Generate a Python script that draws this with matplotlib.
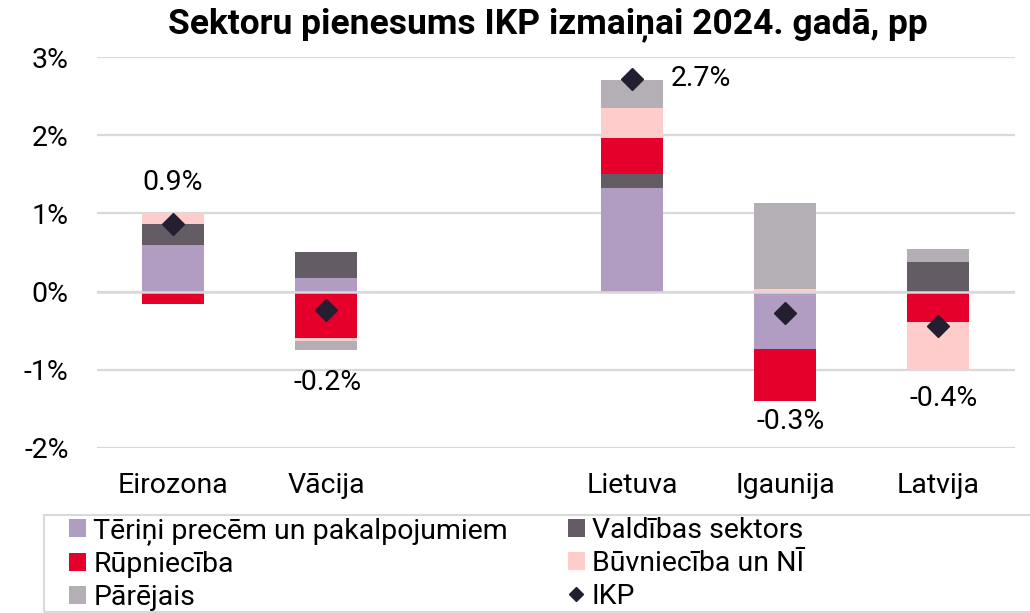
import matplotlib
matplotlib.use('Agg')
import matplotlib.pyplot as plt
import numpy as np
from matplotlib.patches import Rectangle, Patch
from matplotlib.lines import Line2D
from matplotlib.ticker import FuncFormatter

plt.rcParams['font.family'] = ['Roboto', 'DejaVu Sans']

# ---- data ----
categories = ["Eirozona", "Vācija", "", "Lietuva", "Igaunija", "Latvija"]
terini = [0.60, 0.17, 0.0, 1.32, -0.74, 0.00]
valdibas = [0.27, 0.34, 0.0, 0.19, 0.00, 0.38]
rupnieciba = [-0.16, -0.59, 0.0, 0.46, -0.66, -0.39]
buvnieciba = [0.14, -0.04, 0.0, 0.38, 0.03, -0.61]
parejais = [0.00, -0.12, 0.0, 0.36, 1.10, 0.17]
ikp = [0.86, -0.24, np.nan, 2.72, -0.27, -0.44]

series_names = ["Tēriņi precēm un pakalpojumiem", "Valdības sektors", "Rūpniecība",
                "Būvniecība un NĪ", "Pārējais"]
ikp_name = "IKP"
title = "Sektoru pienesums IKP izmaiņai 2024. gadā, pp"

colors = ["#B29DC2", "#635C64", "#E4002B", "#FFCCCC", "#B4AFB4"]
diamond_color = "#231F30"
FS = 20.5

fig = plt.figure(figsize=(10.30, 6.13), dpi=100)
ax = fig.add_axes([96.5 / 1030, 1 - 448 / 613, 918 / 1030, (448 - 57) / 613])

x = np.arange(len(categories))
pos_base = np.zeros(len(categories))
neg_base = np.zeros(len(categories))
handles = {}
for name, vals, c in zip(series_names, [terini, valdibas, rupnieciba, buvnieciba, parejais], colors):
    v = np.array(vals, dtype=float)
    bottoms = np.where(v >= 0, pos_base, neg_base)
    ax.bar(x, v, 0.40, bottom=bottoms, color=c, zorder=2, edgecolor='none')
    pos_base += np.where(v > 0, v, 0)
    neg_base += np.where(v < 0, v, 0)
    handles[name] = Patch(facecolor=c, edgecolor='none')

# category axis line at zero drawn over the bars (as in the original)
ax.axhline(0, color='#D9D9D9', lw=1.8, zorder=3)

ax.plot(x, ikp, linestyle='none', marker='D', color=diamond_color, ms=11.3, zorder=4)

# data labels for IKP
offsets = [(0, 30, 'center'), (1, -52, 'center'), None, (28, 0, 'left'), (4, -78, 'center'), (4, -52, 'center')]
for xi, val, off in zip(x, ikp, offsets):
    if off is None or np.isnan(val):
        continue
    ax.annotate(f"{val:.1f}%", (xi, val), xytext=(off[0], off[1]), textcoords='offset points',
                ha=off[2], va='center', fontsize=FS, color='black', zorder=5)

ax.set_xlim(-0.5, len(categories) - 0.5)
ax.set_ylim(-2, 3)
ax.set_yticks(np.arange(-2, 4))
ax.yaxis.set_major_formatter(FuncFormatter(lambda v, p: f"{int(round(v))}%"))
ax.set_xticks(x)
ax.set_xticklabels(categories)
ax.yaxis.grid(True, color='#D9D9D9', lw=1.6)
ax.set_axisbelow(True)
for s in ax.spines.values():
    s.set_visible(False)
ax.tick_params(axis='both', length=0, labelsize=FS, colors='black')
ax.tick_params(axis='y', pad=20)
ax.tick_params(axis='x', pad=17)

fig.text(548 / 1030, 1 - 25 / 613, title, ha='center', va='center', fontsize=25.5,
         fontweight='bold', color='black')

# legend
leg_handles = [handles[series_names[0]], handles[series_names[2]], handles[series_names[4]],
               handles[series_names[1]], handles[series_names[3]],
               Line2D([], [], linestyle='none', marker='D', color=diamond_color, ms=7)]
leg_labels = [series_names[0], series_names[2], series_names[4], series_names[1], series_names[3], ikp_name]
fig.legend(leg_handles, leg_labels, loc='upper left', bbox_to_anchor=(69 / 1030, 1 - 517 / 613),
           bbox_transform=fig.transFigure, ncol=2, frameon=False, fontsize=FS,
           handlelength=0.6, handleheight=0.6, handletextpad=0.25, labelspacing=0.21,
           columnspacing=2.1, borderaxespad=0, borderpad=0)
fig.patches.append(Rectangle((44 / 1030, 1 - 612 / 613), 1.0, (612 - 515) / 613, transform=fig.transFigure,
                             fill=False, edgecolor='#D9D9D9', lw=1.5, figure=fig))

fig.savefig('out.png', dpi=100)
